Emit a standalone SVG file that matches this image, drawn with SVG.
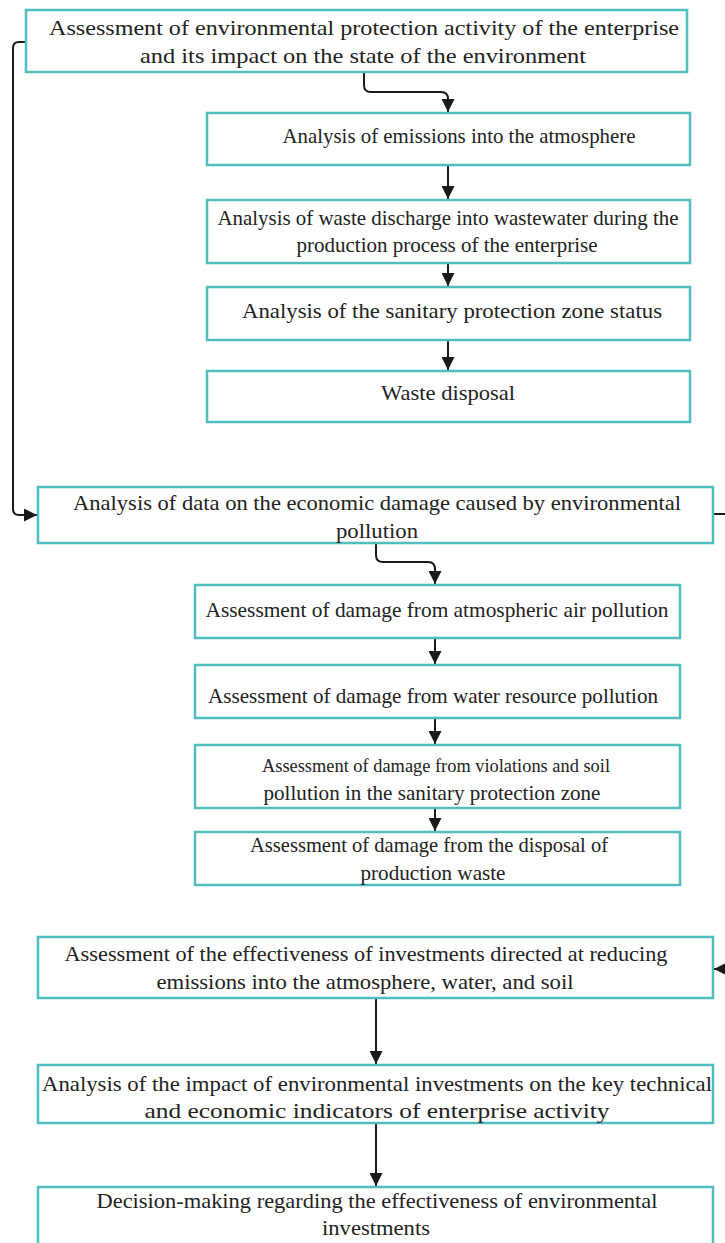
<svg xmlns="http://www.w3.org/2000/svg" width="725" height="1243" viewBox="0 0 725 1243">
<defs>
<marker id="arr" viewBox="0 0 10 10" refX="10" refY="5" markerWidth="6.5" markerHeight="6.5" orient="auto" markerUnits="strokeWidth">
<path d="M0,0 L10,5 L0,10 z" fill="#1a1a1a"/>
</marker>
<style>
.box{fill:#ffffff;stroke:#52bdbd;stroke-width:2.5}
.t{font-family:"Liberation Serif","Times New Roman",serif;font-size:22px;fill:#222;text-anchor:middle}
.s{font-size:19px}
.c{fill:none;stroke:#1a1a1a;stroke-width:2;marker-end:url(#arr)}
</style>
</defs>
<rect width="725" height="1243" fill="#ffffff"/>
<g id="connectors">
<path class="c" d="M364,72 V85 Q364,92 371,92 H441 Q448,92 448,99 V112"/>
<path class="c" d="M26,42 H19 Q13,42 13,48 V509 Q13,515 19,515 H37"/>
<path class="c" d="M448,165 V199"/>
<path class="c" d="M448,263 V286"/>
<path class="c" d="M448,340 V370"/>
<path class="c" d="M376,543 V555 Q376,562 383,562 H428 Q435,562 435,569 V584"/>
<path class="c" d="M435,638 V664"/>
<path class="c" d="M435,718 V744"/>
<path class="c" d="M435,808 V831"/>
<path class="c" d="M713,514 H730 V969 H714"/>
<path class="c" d="M376,998 V1064"/>
<path class="c" d="M376,1123 V1186"/>
</g>
<g id="n1"><rect class="box" x="26" y="10" width="661" height="62"/>
<text class="t" x="364" y="35" textLength="630" lengthAdjust="spacingAndGlyphs">Assessment of environmental protection activity of the enterprise</text>
<text class="t" x="363" y="63" textLength="446" lengthAdjust="spacingAndGlyphs">and its impact on the state of the environment</text></g>
<g id="n2"><rect class="box" x="207" y="113" width="483" height="52"/>
<text class="t" x="459" y="143" textLength="353" lengthAdjust="spacingAndGlyphs">Analysis of emissions into the atmosphere</text></g>
<g id="n3"><rect class="box" x="207" y="200" width="483" height="63"/>
<text class="t" x="448" y="225" textLength="461" lengthAdjust="spacingAndGlyphs">Analysis of waste discharge into wastewater during the</text>
<text class="t" x="447" y="252" textLength="301" lengthAdjust="spacingAndGlyphs">production process of the enterprise</text></g>
<g id="n4"><rect class="box" x="207" y="287" width="483" height="53"/>
<text class="t" x="452" y="318" textLength="420" lengthAdjust="spacingAndGlyphs">Analysis of the sanitary protection zone status</text></g>
<g id="n5"><rect class="box" x="207" y="371" width="483" height="51"/>
<text class="t" x="448" y="400" textLength="134" lengthAdjust="spacingAndGlyphs">Waste disposal</text></g>
<g id="n6"><rect class="box" x="38" y="487" width="675" height="56"/>
<text class="t" x="377" y="510" textLength="608" lengthAdjust="spacingAndGlyphs">Analysis of data on the economic damage caused by environmental</text>
<text class="t" x="377" y="538" textLength="82" lengthAdjust="spacingAndGlyphs">pollution</text></g>
<g id="n7"><rect class="box" x="195" y="585" width="485" height="53"/>
<text class="t" x="437" y="617" textLength="463" lengthAdjust="spacingAndGlyphs">Assessment of damage from atmospheric air pollution</text></g>
<g id="n8"><rect class="box" x="195" y="665" width="485" height="53"/>
<text class="t" x="433" y="703" textLength="450" lengthAdjust="spacingAndGlyphs">Assessment of damage from water resource pollution</text></g>
<g id="n9"><rect class="box" x="195" y="745" width="485" height="63"/>
<text class="t s" x="436" y="772" textLength="348" lengthAdjust="spacingAndGlyphs">Assessment of damage from violations and soil</text>
<text class="t" x="432" y="800" textLength="337" lengthAdjust="spacingAndGlyphs">pollution in the sanitary protection zone</text></g>
<g id="n10"><rect class="box" x="195" y="832" width="485" height="53"/>
<text class="t" x="429" y="852" textLength="358" lengthAdjust="spacingAndGlyphs">Assessment of damage from the disposal of</text>
<text class="t" x="433" y="880" textLength="145" lengthAdjust="spacingAndGlyphs">production waste</text></g>
<g id="n11"><rect class="box" x="38" y="937" width="675" height="61"/>
<text class="t" x="366" y="961" textLength="603" lengthAdjust="spacingAndGlyphs">Assessment of the effectiveness of investments directed at reducing</text>
<text class="t" x="365" y="989" textLength="417" lengthAdjust="spacingAndGlyphs">emissions into the atmosphere, water, and soil</text></g>
<g id="n12"><rect class="box" x="38" y="1065" width="675" height="58"/>
<text class="t" x="377" y="1091" textLength="670" lengthAdjust="spacingAndGlyphs">Analysis of the impact of environmental investments on the key technical</text>
<text class="t" x="377" y="1118" textLength="465" lengthAdjust="spacingAndGlyphs">and economic indicators of enterprise activity</text></g>
<g id="n13"><rect class="box" x="38" y="1187" width="675" height="70"/>
<text class="t" x="377" y="1208" textLength="561" lengthAdjust="spacingAndGlyphs">Decision-making regarding the effectiveness of environmental</text>
<text class="t" x="376" y="1235" textLength="108" lengthAdjust="spacingAndGlyphs">investments</text></g>
</svg>
